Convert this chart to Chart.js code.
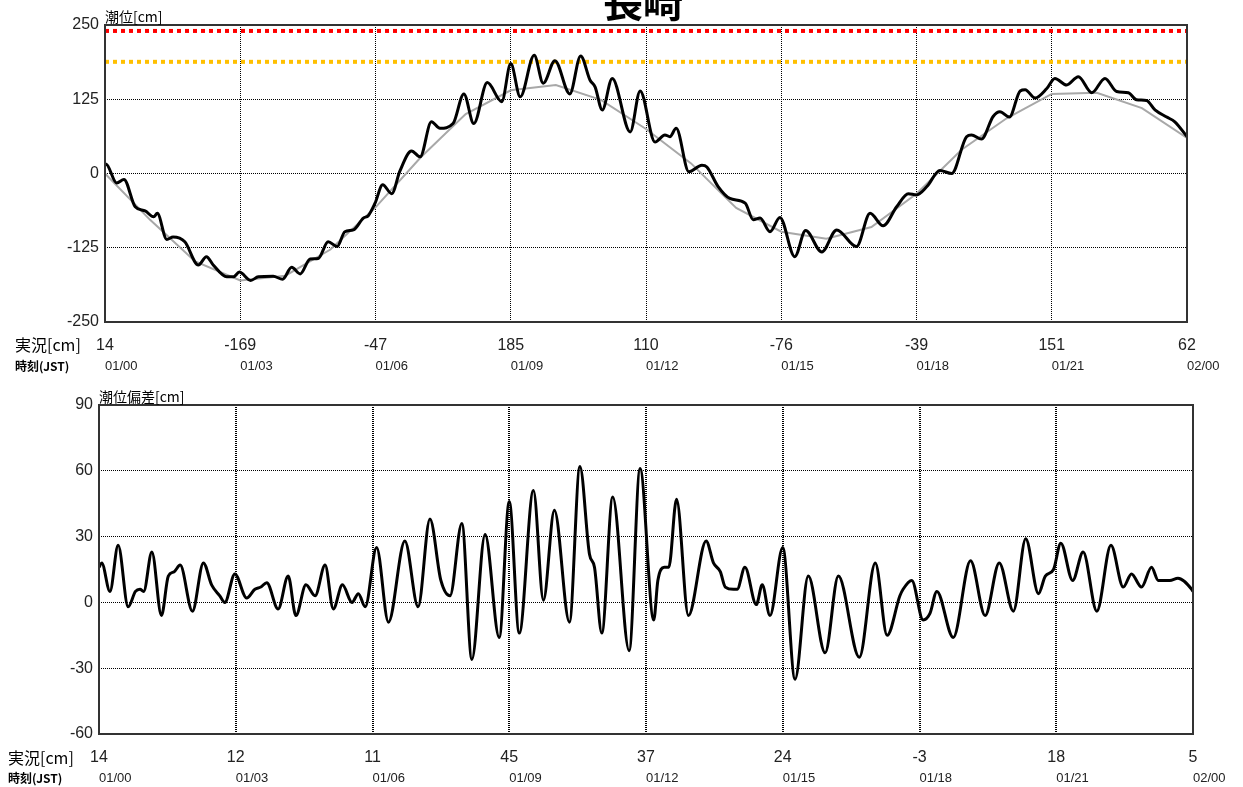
<!DOCTYPE html>
<html>
<head>
<meta charset="utf-8">
<script src="https://cdn.jsdelivr.net/npm/chart.js@4.4.1/dist/chart.umd.min.js"></script>
<style>
body { margin: 0; background: #fff; }
#wrap { position: relative; width: 1243px; height: 787px; }
canvas { position: absolute; left: 0; }
#tideCanvas { top: 0; }
#devCanvas { top: 380px; }
</style>
</head>
<body>
<div id="wrap">
<canvas id="tideCanvas" width="1243" height="380" style="width:1243px;height:380px"></canvas>
<canvas id="devCanvas" width="1243" height="407" style="width:1243px;height:407px"></canvas>
</div>
<script>
const stationName = "長崎"

// x tick labels (every 3 hours)
const tickTimes = ["01/00", "01/03", "01/06", "01/09", "01/12", "01/15", "01/18", "01/21", "02/00"]
const tideAtTick = ["14", "-169", "-47", "185", "110", "-76", "-39", "151", "62"]
const devAtTick = ["14", "12", "11", "45", "37", "24", "-3", "18", "5"]

// threshold levels [cm]
const warningLevel = 240
const advisoryLevel = 188

// astronomical tide, hourly
const astroHours = [0, 1, 2, 3, 4, 5, 6, 7, 8, 9, 10, 11, 12, 13, 14, 15, 16, 17, 18, 19, 20, 21, 22, 23, 24]
const astroTide = [0, -78, -148, -180, -172, -128, -57, 27, 100, 140, 149, 124, 75, 17, -58, -98, -110, -90, -34, 40, 93, 134, 136, 110, 60]

// observed tide [cm]
const obsHours = [0, 0.02, 0.26, 0.42, 0.67, 0.89, 1.08, 1.16, 1.37, 1.51, 1.77, 2.07, 2.25, 2.4, 2.7, 2.85, 2.98, 3.23, 3.4, 3.73, 3.94,
    4.14, 4.33, 4.55, 4.73, 4.95, 5.15, 5.32, 5.51, 5.73, 5.84, 5.99, 6.16, 6.36, 6.54, 6.8, 6.99, 7.24, 7.43, 7.72, 7.96,
    8.18, 8.48, 8.8, 9.0, 9.21, 9.52, 9.72, 9.98, 10.31, 10.55, 10.76, 10.87, 11.03, 11.25, 11.65, 11.87, 12.2, 12.42, 12.53,
    12.67, 12.95, 13.24, 13.35, 13.6, 13.86, 14.2, 14.38, 14.53, 14.75, 14.97, 15.3, 15.54, 15.9, 16.23, 16.67, 16.97, 17.26,
    17.56, 17.82, 18.0, 18.23, 18.52, 18.78, 19.11, 19.22, 19.44, 19.7, 19.85, 20.06, 20.3, 20.41, 20.63, 20.89, 21.07, 21.33,
    21.59, 21.89, 22.18, 22.44, 22.7, 22.88, 23.1, 23.29, 23.55, 23.73, 24]
const obsTide = [14, 16, -16, -10, -56, -63, -73, -67, -111, -107, -115, -154, -140, -154, -174, -174, -166, -180, -174, -173, -178,
    -158, -169, -144, -143, -115, -123, -98, -95, -75, -71, -50, -19, -34, 4, 38, 28, 87, 76, 84, 134,
    84, 153, 121, 185, 129, 199, 152, 190, 134, 198, 157, 146, 107, 160, 70, 139, 53, 65, 62,
    76, 3, 14, 11, -22, -42, -50, -78, -75, -98, -74, -140, -96, -132, -95, -123, -67, -88,
    -56, -34, -36, -22, 5, 0, 62, 65, 58, 96, 104, 95, 139, 141, 127, 143, 160, 149,
    163, 136, 160, 138, 136, 124, 123, 107, 95, 87, 62]

// tide deviation [cm]
const devHours = [0, 0.06, 0.24, 0.42, 0.64, 0.8, 0.9, 0.98, 1.16, 1.37, 1.52, 1.65, 1.78, 2.05, 2.29, 2.47, 2.65, 2.76, 2.98,
    3.24, 3.42, 3.55, 3.68, 3.93, 4.15, 4.32, 4.54, 4.74, 4.96, 5.14, 5.34, 5.55, 5.69, 5.84, 6.09, 6.35, 6.71, 7.0, 7.26,
    7.5, 7.7, 7.96, 8.18, 8.47, 8.78, 9.0, 9.22, 9.53, 9.75, 9.99, 10.32, 10.55, 10.76, 10.87, 11.03, 11.27, 11.63, 11.87,
    12.17, 12.26, 12.4, 12.5, 12.67, 12.93, 13.32, 13.48, 13.63, 13.74, 13.92, 14.0, 14.17, 14.42, 14.55, 14.72, 15.0, 15.27,
    15.56, 15.93, 16.22, 16.68, 17.03, 17.29, 17.57, 17.64, 17.83, 18.08, 18.23, 18.38, 18.74, 19.12, 19.44, 19.75, 20.06,
    20.33, 20.61, 20.76, 20.94, 21.1, 21.36, 21.59, 21.89, 22.2, 22.47, 22.65, 22.87, 23.09, 23.24, 23.49, 23.67, 23.97, 24]
const devValues = [16, 18, 5, 26, -2, 5, 6, 5, 23, -6, 12, 14, 17, -4, 18, 8, 3, 0, 13,
    2, 6, 7, 9, -3, 12, -6, 8, 3, 17, -3, 8, 0, 4, -2, 25, -9, 28, -2, 38,
    10, 3, 36, -26, 31, -16, 46, -14, 51, 1, 42, -9, 62, 22, 16, -14, 48, -22, 61,
    -8, 10, 16, 16, 47, -6, 28, 18, 14, 7, 6, 6, 16, -1, 8, -6, 25, -35,
    12, -23, 12, -25, 18, -15, 3, 6, 10, -8, -5, 5, -16, 19, -6, 18, -4,
    29, 4, 12, 15, 27, 10, 23, -4, 26, 7, 13, 7, 16, 10, 10, 11, 6, 5]

const textFont = '"Liberation Sans", Arial, "Noto Sans CJK JP", sans-serif'
const cjkFont = '"Noto Sans CJK JP", "Liberation Sans", sans-serif'
Chart.defaults.font.family = textFont
Chart.defaults.color = "#222"

function toPoints(xs, ys) {
    return xs.map(function (x, i) { return { x: x, y: ys[i] } })
}

function levelLine(level) {
    return [{ x: 0, y: level }, { x: 24, y: level }]
}

function decorPlugin(opts) {
    return {
        id: "decor",
        afterDraw(chart) {
            const ctx = chart.ctx
            const a = chart.chartArea
            ctx.save()
            ctx.strokeStyle = "#333"
            ctx.lineWidth = 2
            ctx.strokeRect(a.left, a.top, a.right - a.left, a.bottom - a.top)

            ctx.fillStyle = "#000"
            ctx.textAlign = "left"
            ctx.textBaseline = "bottom"
            ctx.font = "14px " + cjkFont
            ctx.fillText(opts.yTitle, a.left, a.top - 1)

            ctx.textBaseline = "middle"
            ctx.font = "16px " + cjkFont
            ctx.fillText("実況[cm]", opts.labelX, a.bottom + opts.valueOffset)
            ctx.font = "bold 12px " + cjkFont
            ctx.fillText("時刻(JST)", opts.labelX, a.bottom + 44)

            if (opts.title) {
                ctx.textAlign = "center"
                ctx.textBaseline = "alphabetic"
                ctx.font = "bold 40px " + cjkFont
                ctx.fillText(opts.title, 643, 17)
            }
            ctx.restore()
        }
    }
}

function xScales(valueLabels, xGridWidth, valueHeight, timeHeight, timePad) {
    return {
        x: {
            type: "linear", min: 0, max: 24, position: "bottom",
            afterFit: function (s) { s.height = valueHeight; s.paddingLeft = 0; s.paddingRight = 0 },
            grid: { color: "#000", lineWidth: xGridWidth, drawTicks: false },
            border: { display: false, dash: [1, 1] },
            ticks: {
                stepSize: 3, autoSkip: false, maxRotation: 0, padding: 14,
                font: { size: 16 }, color: "#222",
                callback: function (v) { return valueLabels[Math.round(v / 3)] }
            }
        },
        x2: {
            type: "linear", min: 0, max: 24, position: "bottom",
            afterFit: function (s) { s.height = timeHeight; s.paddingLeft = 0; s.paddingRight = 0 },
            grid: { display: false, drawTicks: false },
            border: { display: false },
            ticks: {
                stepSize: 3, autoSkip: false, maxRotation: 0, padding: timePad, align: "start",
                font: { size: 13 }, color: "#222",
                callback: function (v) { return tickTimes[Math.round(v / 3)] }
            }
        }
    }
}

// upper chart: tide level
const tideScales = xScales(tideAtTick, 1, 32, 26, 5)
tideScales.y = {
    min: -250, max: 250,
    afterFit: function (s) { s.width = 105; s.paddingTop = 0; s.paddingBottom = 0 },
    grid: { color: "#000", lineWidth: 1, drawTicks: false },
    border: { display: false, dash: [1, 1] },
    ticks: { stepSize: 125, padding: 6, font: { size: 16 }, color: "#222" }
}

new Chart(document.getElementById("tideCanvas"), {
    type: "line",
    data: {
        datasets: [
            { data: toPoints(obsHours, obsTide), borderColor: "#000", borderWidth: 3, cubicInterpolationMode: "monotone" },
            { data: toPoints(astroHours, astroTide), borderColor: "#a8a8a8", borderWidth: 2 },
            { data: levelLine(warningLevel), borderColor: "#ff0000", borderWidth: 4, borderDash: [4, 4] },
            { data: levelLine(advisoryLevel), borderColor: "#ffc000", borderWidth: 4, borderDash: [4, 4] }
        ]
    },
    options: {
        responsive: false, animation: false,
        parsing: true,
        elements: { point: { radius: 0 } },
        layout: { padding: { left: 0, right: 56, top: 25, bottom: 0 } },
        plugins: { legend: { display: false }, tooltip: { enabled: false } },
        scales: tideScales
    },
    plugins: [decorPlugin({ yTitle: "潮位[cm]", labelX: 15, valueOffset: 23, title: stationName })]
})

// lower chart: tide deviation
const devScales = xScales(devAtTick, 2, 32, 21, 5)
devScales.y = {
    min: -60, max: 90,
    afterFit: function (s) { s.width = 99; s.paddingTop = 0; s.paddingBottom = 0 },
    grid: { color: "#000", lineWidth: 1, drawTicks: false },
    border: { display: false, dash: [1, 1] },
    ticks: { stepSize: 30, padding: 6, font: { size: 16 }, color: "#222" }
}

new Chart(document.getElementById("devCanvas"), {
    type: "line",
    data: {
        datasets: [
            { data: toPoints(devHours, devValues), borderColor: "#000", borderWidth: 3, cubicInterpolationMode: "monotone" }
        ]
    },
    options: {
        responsive: false, animation: false,
        elements: { point: { radius: 0 } },
        layout: { padding: { left: 0, right: 50, top: 25, bottom: 0 } },
        plugins: { legend: { display: false }, tooltip: { enabled: false } },
        scales: devScales
    },
    plugins: [decorPlugin({ yTitle: "潮位偏差[cm]", labelX: 8, valueOffset: 24 })]
})
</script>
</body>
</html>
